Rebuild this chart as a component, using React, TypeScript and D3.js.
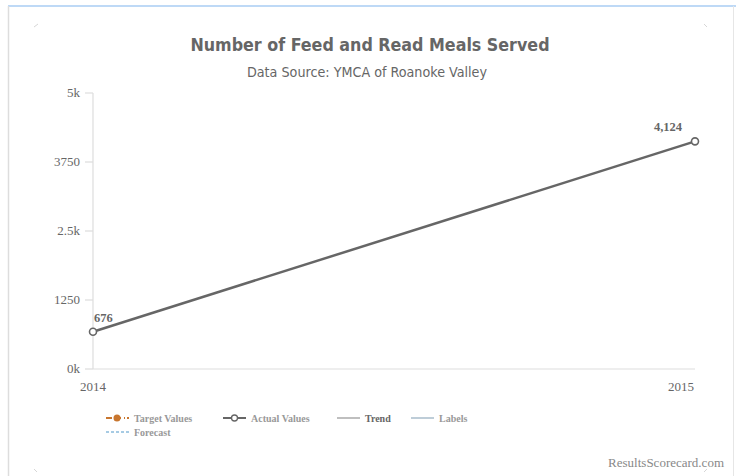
import React from "react";
import * as d3 from "d3";

const years = ["2014", "2015"];
const actualValues = [676, 4124];
const valueLabels = ["676", "4,124"];
const yTicks = [0, 1250, 2500, 3750, 5000];
const yTickLabels = ["0k", "1250", "2.5k", "3750", "5k"];
const legendItems = ["Target Values", "Actual Values", "Trend", "Labels", "Forecast"];

const W = 736;
const H = 476;

export default function App() {
  const x = d3.scalePoint<string>().domain(years).range([93, 695]);
  const y = d3.scaleLinear().domain([0, 5000]).range([369, 93]);
  const line = d3
    .line<number>()
    .x((_, i) => x(years[i]) as number)
    .y((d) => y(d));
  const serif = "'Liberation Serif', 'Times New Roman', serif";
  const sans = "'DejaVu Sans Condensed', 'DejaVu Sans', sans-serif";
  const grey = "#666";
  return (
    <svg
      width={W}
      height={H}
      style={{ position: "absolute", left: 0, top: 0, display: "block" }}
    >
      <rect x={0} y={0} width={W} height={H} fill="#fff" />
      {/* frame */}
      <line x1={8} x2={W} y1={6} y2={6} stroke="#a9cdf3" strokeWidth={1.5} />
      <line x1={8.5} x2={8.5} y1={6} y2={H} stroke="#ddd" strokeWidth={1.5} />
      <line x1={733.5} x2={733.5} y1={6} y2={H} stroke="#e6e6e6" strokeWidth={1} />
      {/* corner marks */}
      <line x1={34} y1={27} x2={38} y2={24} stroke="#ccc" strokeWidth={0.8} />
      <line x1={704} y1={24} x2={707} y2={27} stroke="#ccc" strokeWidth={0.8} />
      <line x1={34} y1={469} x2={37} y2={472} stroke="#ccc" strokeWidth={0.8} />
      <line x1={704} y1={472} x2={707} y2={469} stroke="#ccc" strokeWidth={0.8} />

      <text x={370} y={51} textAnchor="middle" fontFamily={sans} fontWeight="bold" fontSize={17.7} fill={grey}>
        Number of Feed and Read Meals Served
      </text>
      <text x={367} y={77} textAnchor="middle" fontFamily={sans} fontSize={14.2} fill={grey}>
        Data Source: YMCA of Roanoke Valley
      </text>

      {/* axes */}
      <line x1={93} x2={93} y1={y(5000)} y2={y(0)} stroke="#ddd" strokeWidth={1.2} />
      <line x1={93} x2={695} y1={y(0)} y2={y(0)} stroke="#ddd" strokeWidth={1.2} />
      {yTicks.map((t, i) => (
        <g key={t}>
          <line x1={85} x2={93} y1={y(t)} y2={y(t)} stroke="#ddd" strokeWidth={1.2} />
          <text x={80} y={y(t) + 4} textAnchor="end" fontFamily={serif} fontSize={13} fill={grey}>
            {yTickLabels[i]}
          </text>
        </g>
      ))}
      {years.map((yr, i) => (
        <text
          key={yr}
          x={i === 0 ? (x(yr) as number) : (x(yr) as number) - 1}
          y={391}
          textAnchor={i === 0 ? "middle" : "end"}
          fontFamily={serif}
          fontSize={13}
          fill={grey}
        >
          {yr}
        </text>
      ))}

      {/* series */}
      <path d={line(actualValues) || ""} fill="none" stroke={grey} strokeWidth={2.5} />
      {actualValues.map((v, i) => (
        <circle key={i} cx={x(years[i]) as number} cy={y(v)} r={3.5} fill="#fff" stroke={grey} strokeWidth={1.6} />
      ))}
      <text x={(x(years[0]) as number) + 1} y={y(actualValues[0]) - 10} fontFamily={serif} fontWeight="bold" fontSize={12.5} fill={grey}>
        {valueLabels[0]}
      </text>
      <text x={(x(years[1]) as number) - 27} y={y(actualValues[1]) - 10} textAnchor="middle" fontFamily={serif} fontWeight="bold" fontSize={12.5} fill={grey}>
        {valueLabels[1]}
      </text>

      {/* legend */}
      <g fontFamily={serif} fontWeight="bold" fontSize={10} fill="#999">
        <line x1={106} x2={125} y1={418} y2={418} stroke="#c8762f" strokeWidth={2} strokeDasharray="6,3" />
        <circle cx={117} cy={418} r={3.5} fill="#c8762f" />
        <line x1={127} x2={129} y1={418} y2={418} stroke="#c8762f" strokeWidth={2} />
        <text x={134} y={422}>{legendItems[0]}</text>

        <line x1={223} x2={246} y1={418} y2={418} stroke={grey} strokeWidth={2} />
        <circle cx={234.5} cy={418} r={3} fill="#fff" stroke={grey} strokeWidth={1.3} />
        <text x={251} y={422}>{legendItems[1]}</text>

        <line x1={337} x2={360} y1={418} y2={418} stroke="#aaa" strokeWidth={1.5} />
        <text x={365} y={422} fill="#666">{legendItems[2]}</text>

        <line x1={411} x2={434} y1={418} y2={418} stroke="#a9bccb" strokeWidth={1.5} />
        <text x={439} y={422}>{legendItems[3]}</text>

        <line x1={106} x2={129} y1={432} y2={432} stroke="#4e97c8" strokeWidth={1} strokeDasharray="3,2" />
        <text x={134} y={436}>{legendItems[4]}</text>
      </g>

      <text x={724} y={467} textAnchor="end" fontFamily={serif} fontSize={13} fill="#888">
        ResultsScorecard.com
      </text>
    </svg>
  );
}
